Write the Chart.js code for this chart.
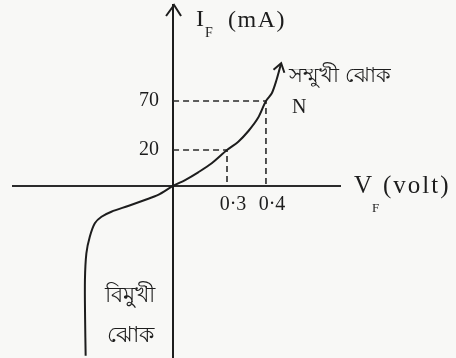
<!DOCTYPE html>
<html>
<head>
<meta charset="utf-8">
<script src="https://cdn.jsdelivr.net/npm/chart.js@4"></script>
<style>
  body { margin: 0; background: #f8f8f6; }
  canvas { display: block; }
</style>
</head>
<body>
<canvas id="diode" width="456" height="358"></canvas>
<script>
// diode characteristic (schematic), reverse branch then forward branch
const curveV = [-0.486, -0.489, -0.49, -0.482, -0.463, -0.435, -0.398, -0.343, -0.25, -0.157, -0.083,
                0, 0.067, 0.14, 0.215, 0.3, 0.329, 0.355, 0.379, 0.4, 0.415, 0.427, 0.439];
const curveI = [-94.4, -74.4, -52.2, -37.4, -28.2, -20.7, -17.1, -14.3, -11.1, -7.8, -5,
                0, 3.3, 7.6, 12.6, 20, 28.5, 39.4, 52.3, 70, 77.9, 91.4, 108.5];

// marked operating points
const markV = [0.3, 0.4];
const markI = [20, 70];

const xTicks = [0.3, 0.4];
const xTickLabels = ['0·3', '0·4'];
const yTicks = [20, 70];
const yTickLabels = ['20', '70'];

const ink = '#1d1d1d';

// the book's axes are not to scale: piecewise linear spacing between marked values
function warp(v, vals, offs) {
    let i = 1;
    while (i < vals.length - 1 && v > vals[i]) i++;
    const k = (offs[i] - offs[i - 1]) / (vals[i] - vals[i - 1]);
    return offs[i - 1] + (v - vals[i - 1]) * k;
}

class SketchScale extends Chart.LinearScale {
    w(v) { return warp(v, this.options.warpValues, this.options.warpSpan); }
    getPixelForValue(v) {
        const a = this.w(this.min), b = this.w(this.max);
        return this.getPixelForDecimal((this.w(v) - a) / (b - a));
    }
}
SketchScale.id = 'sketch';
SketchScale.defaults = Chart.LinearScale.defaults;
Chart.register(SketchScale);

// centred axes should not eat into the plot area
const noPad = s => { s.paddingTop = 0; s.paddingBottom = 0; s.paddingLeft = 0; s.paddingRight = 0; };

const dashSets = markV.map((v, i) => ({
    data: [{x: 0, y: markI[i]}, {x: v, y: markI[i]}, {x: v, y: 0}],
    borderColor: '#2a2a2a',
    borderWidth: 1.6,
    borderDash: [6, 4],
    pointRadius: 0,
    showLine: true,
    tension: 0
}));

const annotate = {
    id: 'annotate',
    afterDraw(chart) {
        const c = chart.ctx;
        const xs = chart.scales.x, ys = chart.scales.y;
        const ox = xs.getPixelForValue(0), oy = ys.getPixelForValue(0);
        c.save();
        c.strokeStyle = ink;
        c.fillStyle = ink;
        c.lineWidth = 2;

        // arrow on top of the current axis
        const top = chart.chartArea.top;
        c.beginPath();
        c.moveTo(ox - 7, top + 11);
        c.lineTo(ox + 1, top);
        c.lineTo(ox + 8, top + 11);
        c.stroke();

        // arrow at the end of the forward branch
        const pts = chart.getDatasetMeta(0).data;
        const p1 = pts[pts.length - 1], p0 = pts[pts.length - 2];
        const ang = Math.atan2(p1.y - p0.y, p1.x - p0.x);
        c.beginPath();
        c.moveTo(p1.x - 10 * Math.cos(ang - 0.6), p1.y - 10 * Math.sin(ang - 0.6));
        c.lineTo(p1.x, p1.y);
        c.lineTo(p1.x - 10 * Math.cos(ang + 0.6), p1.y - 10 * Math.sin(ang + 0.6));
        c.stroke();

        // axis titles with subscripts
        c.textBaseline = 'alphabetic';
        c.font = '24px "Liberation Serif"';
        c.fillText('I', ox + 23, 26);
        c.letterSpacing = '1.5px';
        c.fillText('(mA)', ox + 55, 27);
        c.letterSpacing = '0px';
        c.font = '14px "Liberation Serif"';
        c.fillText('F', ox + 32, 37);

        const ax = chart.chartArea.right;
        c.font = '25px "Liberation Serif"';
        c.fillText('V', ax + 14, oy + 7);
        c.letterSpacing = '2px';
        c.fillText('(volt)', ax + 43, oy + 7);
        c.letterSpacing = '0px';
        c.font = '13px "Liberation Serif"';
        c.fillText('F', ax + 32, oy + 26);

        // point label and branch names
        const nx = xs.getPixelForValue(0.4), ny = ys.getPixelForValue(70);
        c.font = '20px "Liberation Serif"';
        c.fillText('N', nx + 26, ny + 12);

        c.textBaseline = 'middle';
        c.font = '21px "Noto Sans", sans-serif';
        c.fillText('সম্মুখী ঝোক', p1.x + 8, p1.y + 13);
        c.textAlign = 'center';
        c.font = '22px "Noto Sans", sans-serif';
        c.fillText('বিমুখী', ox - 43, oy + 110);
        c.fillText('ঝোক', ox - 43, oy + 150);
        c.restore();
    }
};

new Chart(document.getElementById('diode'), {
    type: 'scatter',
    data: {
        datasets: [{
            data: curveV.map((v, i) => ({x: v, y: curveI[i]})),
            borderColor: ink,
            borderWidth: 2,
            pointRadius: 0,
            showLine: true,
            tension: 0.3
        }, ...dashSets]
    },
    options: {
        responsive: false,
        animation: false,
        events: [],
        layout: { padding: { left: 13, right: 116, top: 5, bottom: 0 } },
        plugins: { legend: { display: false }, tooltip: { enabled: false } },
        scales: {
            x: {
                type: 'sketch',
                warpValues: [0, 0.3, 0.4],
                warpSpan: [0, 54, 93],
                min: -0.89,
                max: 0.59,
                position: { y: 0 },
                border: { color: '#2b2b2b', width: 2 },
                grid: { display: false, drawTicks: false },
                afterBuildTicks: s => { s.ticks = xTicks.map(v => ({value: v})); },
                afterFit: noPad,
                ticks: {
                    callback: (v, i) => xTickLabels[i],
                    font: { family: 'Liberation Serif', size: 20 },
                    color: ink,
                    padding: 7,
                    labelOffset: 6,
                    maxRotation: 0
                }
            },
            y: {
                type: 'sketch',
                warpValues: [0, 20, 70],
                warpSpan: [0, 36, 85],
                min: -95.6,
                max: 168,
                position: { x: 0 },
                border: { color: ink, width: 2 },
                grid: { display: false, drawTicks: false },
                afterBuildTicks: s => { s.ticks = yTicks.map(v => ({value: v})); },
                afterFit: noPad,
                ticks: {
                    // centred axis puts labels flush against the line, so pad with spaces
                    callback: (v, i) => yTickLabels[i] + '\u2002\u2009',
                    font: { family: 'Liberation Serif', size: 20 },
                    color: ink,
                    padding: 0
                }
            }
        }
    },
    plugins: [annotate]
});
</script>
</body>
</html>
